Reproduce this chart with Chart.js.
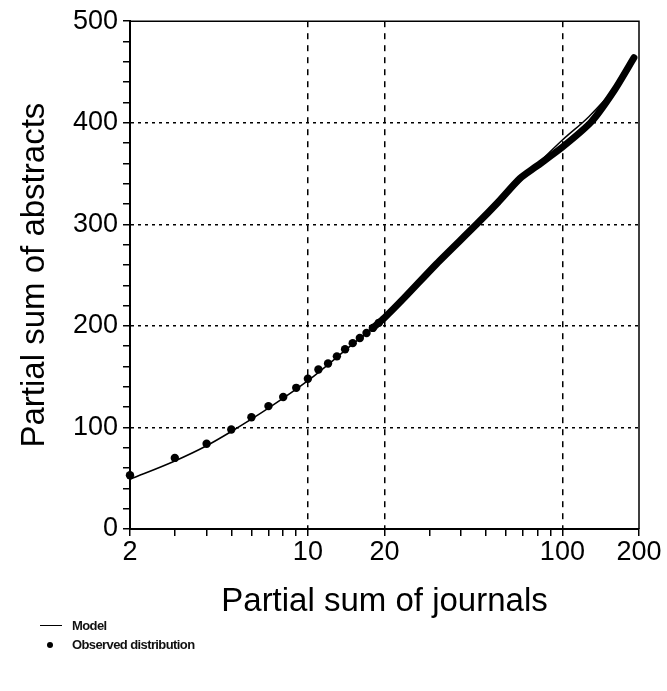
<!DOCTYPE html>
<html>
<head>
<meta charset="utf-8">
<script src="https://cdn.jsdelivr.net/npm/chart.js@4.4.1/dist/chart.umd.min.js"></script>
<style>
  html, body { margin: 0; padding: 0; background: #fff; }
  .wrap { position: relative; width: 667px; height: 691px; }
  canvas { position: absolute; left: 0; top: 0; }
  .legend { position: absolute; left: 36px; top: 616px; font-family: "Liberation Sans", Arial, sans-serif; font-weight: bold; font-size: 13px; letter-spacing: -0.6px; color: #111; }
  .legend .row { position: relative; height: 19px; line-height: 19px; padding-left: 36px; }
  .legend .line { position: absolute; left: 4px; top: 9px; width: 22px; height: 0; border-top: 1.5px solid #000; }
  .legend .dot { position: absolute; left: 11px; top: 7px; width: 6px; height: 6px; border-radius: 50%; background: #000; }
</style>
</head>
<body>
<div class="wrap">
  <canvas id="chart" width="667" height="691"></canvas>
  <div class="legend">
    <div class="row"><span class="line"></span>Model</div>
    <div class="row"><span class="dot"></span>Observed distribution</div>
  </div>
</div>
<script>
// model curve
const modelX = [2, 3, 4, 5, 7, 10, 15, 20, 32, 46, 68, 100, 127, 160, 191];
const modelY = [49, 67, 82, 96, 119, 146, 182, 207, 260, 299, 342, 383, 406, 434, 464];

// observed distribution, single visible dots
const obsX = [2, 3, 4, 5, 6, 7, 8, 9, 10, 11, 12, 13, 14, 15, 16, 17, 18, 19];
const obsY = [53, 70, 84, 98, 110, 121, 130, 139, 148, 157, 163, 170, 177, 183, 188, 193, 198, 203];

// observed distribution where the dots merge into a band
const bandX = [18, 20, 24, 32, 46, 56, 68, 79, 100, 130, 160, 191];
const bandY = [198, 208, 228, 261, 300, 322, 345, 357, 376, 401, 432, 464];

// axes
const xTicks = [2, 3, 4, 5, 6, 7, 8, 9, 10, 20, 30, 40, 50, 60, 70, 80, 90, 100, 200];
const xTickLabels = [2, 10, 20, 100, 200];
const xGridLines = [10, 20, 100];
const yTickLabels = [0, 100, 200, 300, 400, 500];
const yGridLines = [100, 200, 300, 400];

const pts = (xs, ys) => xs.map((x, i) => ({ x: x, y: ys[i] }));

// top and right edges of the frame
const frame = {
    id: 'frame',
    beforeDatasetsDraw(chart) {
        const { ctx, chartArea: a } = chart;
        ctx.save();
        ctx.strokeStyle = '#000';
        ctx.lineWidth = 1.5;
        ctx.beginPath();
        ctx.moveTo(a.left, a.top);
        ctx.lineTo(a.right, a.top);
        ctx.lineTo(a.right, a.bottom);
        ctx.stroke();
        ctx.restore();
    }
};

const tickFont = { family: '"Liberation Sans", Arial, sans-serif', size: 27 };
const titleFont = { family: '"Liberation Sans", Arial, sans-serif', size: 33 };

new Chart(document.getElementById('chart'), {
    type: 'line',
    data: {
        datasets: [
            {
                label: 'Model',
                data: pts(modelX, modelY),
                borderColor: '#000',
                borderWidth: 1.5,
                pointRadius: 0,
                cubicInterpolationMode: 'monotone',
                clip: false
            },
            {
                label: 'Observed distribution',
                data: pts(obsX, obsY),
                showLine: false,
                pointRadius: 4.2,
                pointBackgroundColor: '#000',
                pointBorderWidth: 0,
                clip: false
            },
            {
                label: 'Observed band',
                data: pts(bandX, bandY),
                borderColor: '#000',
                borderWidth: 7,
                borderCapStyle: 'round',
                borderJoinStyle: 'round',
                pointRadius: 0,
                tension: 0.25,
                clip: false
            }
        ]
    },
    options: {
        responsive: false,
        animation: false,
        events: [],
        layout: { padding: { top: 20, right: 28, left: 0, bottom: 0 } },
        plugins: {
            legend: { display: false },
            tooltip: { enabled: false }
        },
        scales: {
            x: {
                type: 'logarithmic',
                min: 2,
                max: 200,
                afterBuildTicks: (axis) => {
                    axis.ticks = xTicks.map(v => ({ value: v }));
                },
                afterFit: (axis) => { axis.height = 162; },
                ticks: {
                    autoSkip: false,
                    maxRotation: 0,
                    padding: 0,
                    color: '#000',
                    font: tickFont,
                    callback: (v) => xTickLabels.includes(v) ? String(v) : ''
                },
                grid: {
                    color: (c) => c.tick && xGridLines.includes(c.tick.value) ? '#000' : 'rgba(0,0,0,0)',
                    lineWidth: 1.5,
                    tickColor: '#000',
                    tickLength: 7,
                    tickWidth: 1.5,
                    tickBorderDash: []
                },
                border: {
                    color: '#000',
                    width: 2,
                    dash: (c) => c.type === 'tick' ? [6, 6] : []
                },
                title: {
                    display: true,
                    text: 'Partial sum of journals',
                    color: '#000',
                    font: titleFont,
                    padding: { top: 0, bottom: 69 }
                }
            },
            y: {
                type: 'linear',
                min: 0,
                max: 500,
                ticks: {
                    stepSize: 20,
                    autoSkip: false,
                    padding: 5,
                    color: '#000',
                    font: tickFont,
                    callback: (v) => yTickLabels.includes(v) ? String(v) : ''
                },
                afterFit: (axis) => { axis.width = 130; },
                grid: {
                    color: (c) => c.tick && yGridLines.includes(c.tick.value) ? '#000' : 'rgba(0,0,0,0)',
                    lineWidth: 1.5,
                    tickColor: '#000',
                    tickLength: 7,
                    tickWidth: 1.5,
                    tickBorderDash: []
                },
                border: {
                    color: '#000',
                    width: 2,
                    dash: (c) => c.type === 'tick' ? [3, 4] : []
                },
                title: {
                    display: true,
                    text: 'Partial sum of abstracts',
                    color: '#000',
                    font: titleFont,
                    padding: { top: 15, bottom: 0 }
                }
            }
        }
    },
    plugins: [frame]
});
</script>
</body>
</html>
